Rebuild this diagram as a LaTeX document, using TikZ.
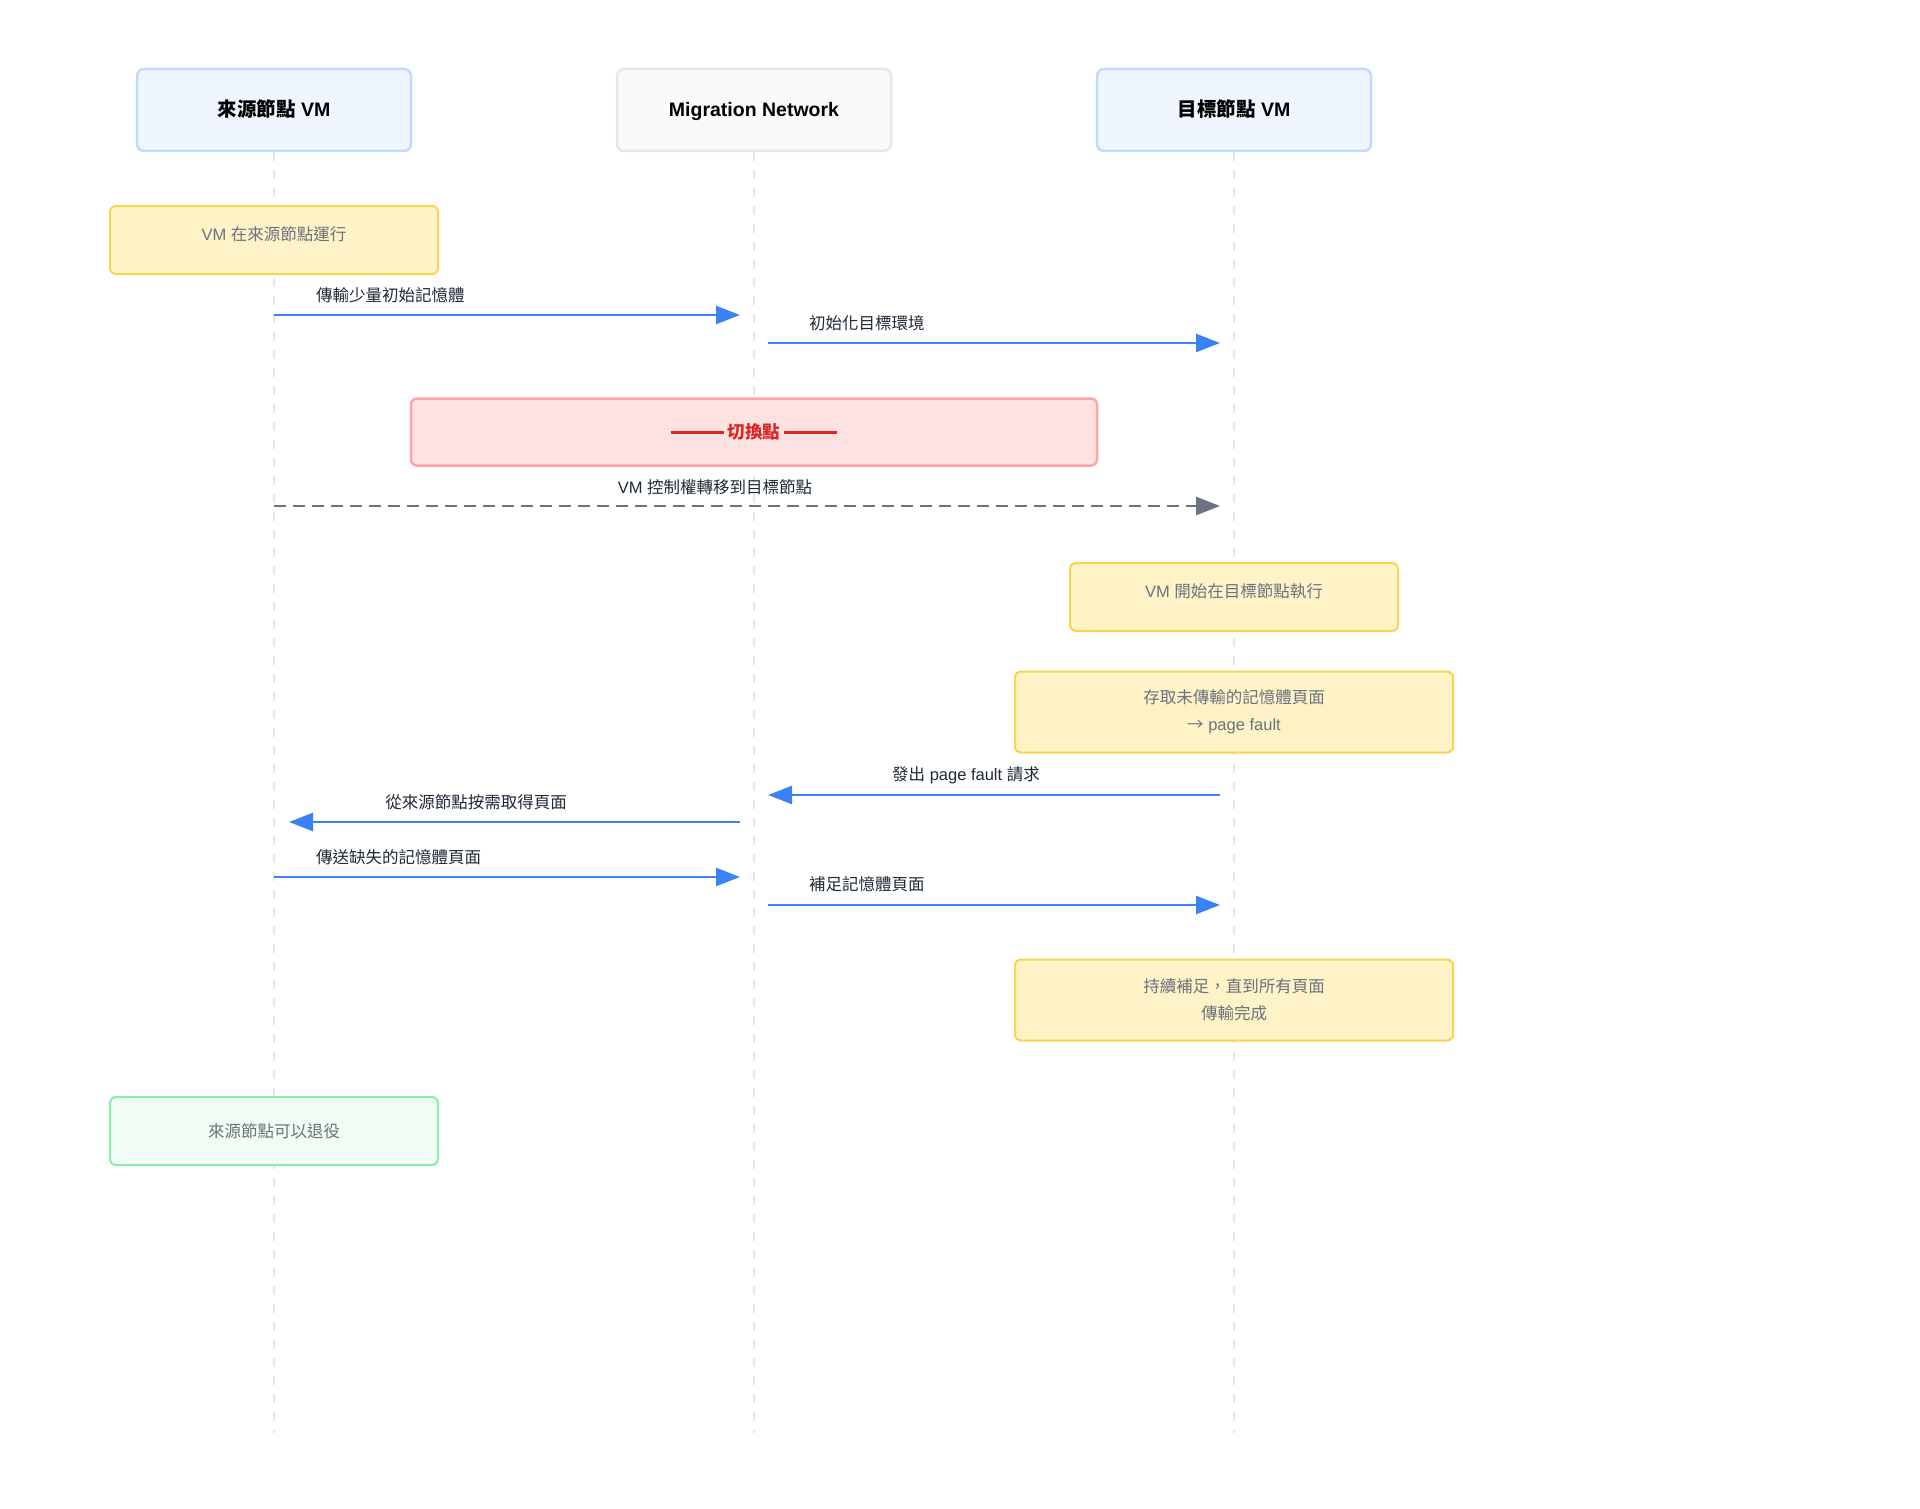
\documentclass[tikz,border=0pt]{standalone}
\usepackage{fontspec}
\setmainfont{Liberation Sans}
\newfontfamily\cjk{Noto Sans CJK TC}
\usetikzlibrary{arrows.meta}

\definecolor{hdrfill}{HTML}{EFF6FF}
\definecolor{hdrline}{HTML}{BFDBFE}
\definecolor{netfill}{HTML}{F8FAFC}
\definecolor{netline}{HTML}{E5E7EB}
\definecolor{notefill}{HTML}{FEF3C7}
\definecolor{noteline}{HTML}{FCD34D}
\definecolor{redfill}{HTML}{FEE2E2}
\definecolor{redline}{HTML}{FCA5A5}
\definecolor{redtext}{HTML}{DC2626}
\definecolor{greenfill}{HTML}{F0FDF4}
\definecolor{greenline}{HTML}{86EFAC}
\definecolor{msgblue}{HTML}{3B82F6}
\definecolor{graytext}{HTML}{6B7280}
\definecolor{darktext}{HTML}{1F2937}

\newcommand{\redrule}{\rule[0.28em]{53pt}{2.6pt}}

\tikzset{
  actor/.style={draw=hdrline, fill=hdrfill, line width=2.5pt, rounded corners=7pt,
    minimum width=274pt, minimum height=82pt, text=black, text height=16pt, text depth=2pt,
    font=\fontsize{19.5}{23}\selectfont\bfseries},
  life/.style={netline, line width=2.5pt, dash pattern=on 9pt off 9pt},
  note/.style={draw=noteline, fill=notefill, line width=2pt, rounded corners=6pt,
    text=graytext, align=center, font=\fontsize{16.5}{27}\selectfont},
  oneline/.style={text height=14.5pt, text depth=14pt},
  msg/.style={msgblue, line width=2.6pt, -{Triangle[length=24pt,width=18pt]}},
  msglabel/.style={text=darktext, font=\fontsize{16.5}{20}\selectfont, inner sep=0pt}
}

\begin{document}
\begin{tikzpicture}[x=1pt,y=-1pt]
\useasboundingbox (0,0) rectangle (1920,1509);

% Participants
\node[actor] (src) at (274,110) {{\cjk 來源節點} VM};
\node[actor, draw=netline, fill=netfill] (net) at (754,110) {Migration Network};
\node[actor] (tgt) at (1234,110) {{\cjk 目標節點} VM};

% Lifelines
\coordinate (srcend) at (274,1433);
\coordinate (netend) at (754,1433);
\coordinate (tgtend) at (1234,1433);
\draw[life] (src.south) -- (srcend);
\draw[life] (net.south) -- (netend);
\draw[life] (tgt.south) -- (tgtend);

% Rows
\coordinate (m1) at (0,315);
\coordinate (m2) at (0,343);
\coordinate (m3) at (0,506);
\coordinate (m4) at (0,795);
\coordinate (m5) at (0,822);
\coordinate (m6) at (0,877);
\coordinate (m7) at (0,905);

% Notes
\node[note, oneline, minimum width=328pt, minimum height=68pt] (run) at (274,240) {VM {\cjk 在來源節點運行}};
\node[draw=redline, fill=redfill, line width=2.5pt, rounded corners=6pt,
  minimum width=686pt, minimum height=67pt, text=redtext,
  font=\fontsize{17.5}{21}\selectfont\bfseries\cjk] (switch) at (754,432) {\redrule\ 切換點 \redrule};
\node[note, oneline, minimum width=328pt, minimum height=68pt] (start) at (1234,597) {VM {\cjk 開始在目標節點執行}};
\node[note, minimum width=438pt, minimum height=81pt] (access) at (1234,712)
  {{\cjk 存取未傳輸的記憶體頁面}\\{\cjk →} page fault};
\node[note, minimum width=438pt, minimum height=81pt] (fill) at (1234,1000)
  {{\cjk 持續補足，直到所有頁面}\\{\cjk 傳輸完成}};
\node[note, draw=greenline, fill=greenfill, minimum width=328pt, minimum height=68pt] (retire) at (274,1131)
  {{\cjk 來源節點可以退役}};

% Messages
\draw[msg, shorten >=14pt] (src |- m1) -- (net |- m1);
\node[msglabel, anchor=west] (l1) at (316,295) {\cjk 傳輸少量初始記憶體};

\draw[msg, shorten <=14pt, shorten >=14pt] (net |- m2) -- (tgt |- m2);
\node[msglabel, anchor=west] (l2) at (809,323) {\cjk 初始化目標環境};

\draw[msg, graytext, dash pattern=on 12pt off 7pt, shorten >=14pt] (src |- m3) -- (tgt |- m3);
\node[msglabel] (l3) at (715,487) {VM {\cjk 控制權轉移到目標節點}};

\draw[msg, shorten <=14pt, shorten >=14pt] (tgt |- m4) -- (net |- m4);
\node[msglabel] (l4) at (966,775) {{\cjk 發出} page fault {\cjk 請求}};

\draw[msg, shorten <=14pt, shorten >=15pt] (net |- m5) -- (src |- m5);
\node[msglabel] (l5) at (476,802) {\cjk 從來源節點按需取得頁面};

\draw[msg, shorten >=14pt] (src |- m6) -- (net |- m6);
\node[msglabel, anchor=west] (l6) at (316,857) {\cjk 傳送缺失的記憶體頁面};

\draw[msg, shorten <=14pt, shorten >=14pt] (net |- m7) -- (tgt |- m7);
\node[msglabel, anchor=west] (l7) at (809,884) {\cjk 補足記憶體頁面};

\end{tikzpicture}
\end{document}
